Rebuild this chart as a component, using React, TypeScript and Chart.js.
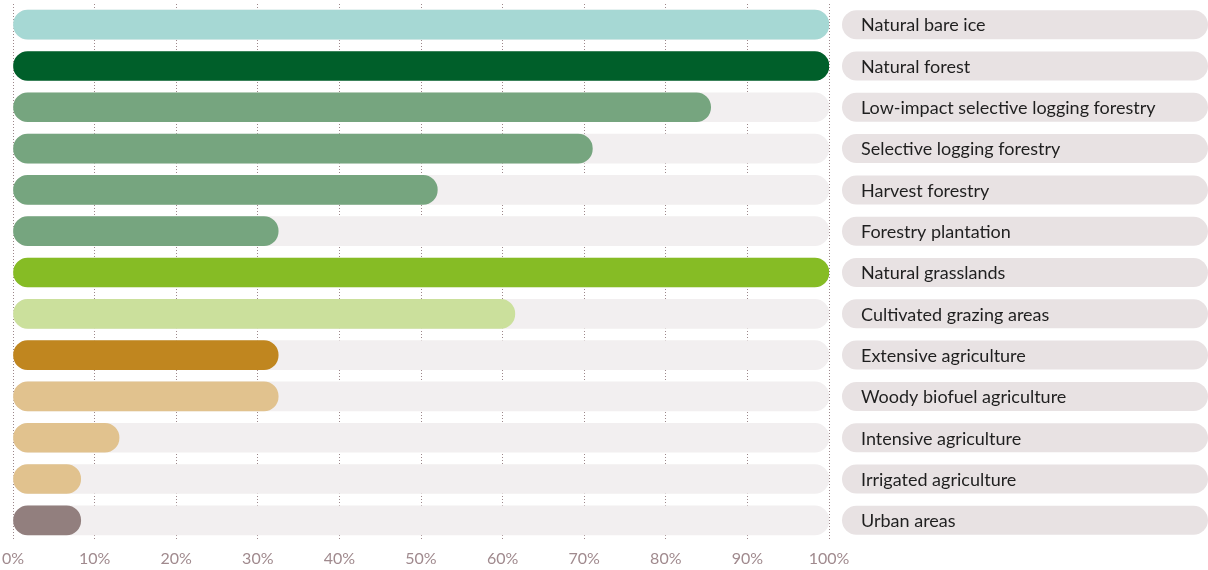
import React, { useEffect, useRef } from "react";
import { Chart, registerables } from "chart.js";

Chart.register(...registerables);

const categories = [
  "Natural bare ice",
  "Natural forest",
  "Low-impact selective logging forestry",
  "Selective logging forestry",
  "Harvest forestry",
  "Forestry plantation",
  "Natural grasslands",
  "Cultivated grazing areas",
  "Extensive agriculture",
  "Woody biofuel agriculture",
  "Intensive agriculture",
  "Irrigated agriculture",
  "Urban areas",
];

const values = [100, 100, 85.5, 71, 52, 32.5, 100, 61.5, 32.5, 32.5, 13, 8.3, 8.3];

const barColors = [
  "#a6d8d4",
  "#005f2a",
  "#76a57f",
  "#76a57f",
  "#76a57f",
  "#76a57f",
  "#86bc25",
  "#cbe09c",
  "#c0861f",
  "#e1c28e",
  "#e1c28e",
  "#e1c28e",
  "#927f7e",
];

const trackValues = categories.map(() => 100);

const tickLabels = ["0%", "10%", "20%", "30%", "40%", "50%", "60%", "70%", "80%", "90%", "100%"];

const FONT = "Lato, 'Noto Sans', sans-serif";

const labelPlugin = {
  id: "rightLabels",
  afterDraw(chart: any) {
    const ctx = chart.ctx;
    const yScale = chart.scales.y;
    const x0 = 842;
    const x1 = 1208;
    const h = 29;
    const r = h / 2;
    ctx.save();
    categories.forEach((c, i) => {
      const y = yScale.getPixelForValue(i);
      ctx.beginPath();
      ctx.fillStyle = "#e8e2e3";
      ctx.roundRect(x0, y - r, x1 - x0, h, r);
      ctx.fill();
      ctx.fillStyle = "#1f1f1f";
      ctx.font = `18px ${FONT}`;
      ctx.textBaseline = "middle";
      ctx.textAlign = "left";
      ctx.fillText(c, 861, y + 1);
    });
    ctx.restore();
  },
};

export default function App() {
  const ref = useRef<HTMLCanvasElement>(null);
  useEffect(() => {
    document.body.style.margin = "0";
    const chart = new Chart(ref.current!, {
      type: "bar",
      data: {
        labels: categories,
        datasets: [
          {
            data: values,
            backgroundColor: barColors,
            borderRadius: 15,
            borderSkipped: false,
            barThickness: 29,
            grouped: false,
          } as any,
          {
            data: trackValues,
            backgroundColor: "#f2eff0",
            borderRadius: 15,
            borderSkipped: false,
            barThickness: 29,
            grouped: false,
          } as any,
        ],
      },
      options: {
        indexAxis: "y",
        animation: false,
        responsive: false,
        maintainAspectRatio: false,
        layout: { padding: { left: 13, right: 379, top: 4, bottom: 0 } },
        plugins: { legend: { display: false }, tooltip: { enabled: false } },
        scales: {
          x: {
            min: 0,
            max: 100,
            z: 1,
            afterFit: (scale: any) => {
              scale.height = 29;
              scale.paddingLeft = 0;
              scale.paddingRight = 0;
            },
            grid: { color: "#9c878a", lineWidth: 1, drawTicks: false },
            border: { display: false, dash: [1, 2] },
            ticks: {
              stepSize: 10,
              color: "#a08a8e",
              font: { family: FONT, size: 16 },
              padding: 8,
              callback: (v: any, i: number) => tickLabels[i],
            },
          },
          y: {
            display: false,
          },
        },
      },
      plugins: [labelPlugin],
    });
    return () => chart.destroy();
  }, []);
  return <canvas ref={ref} width={1208} height={570} style={{ display: "block" }} />;
}
